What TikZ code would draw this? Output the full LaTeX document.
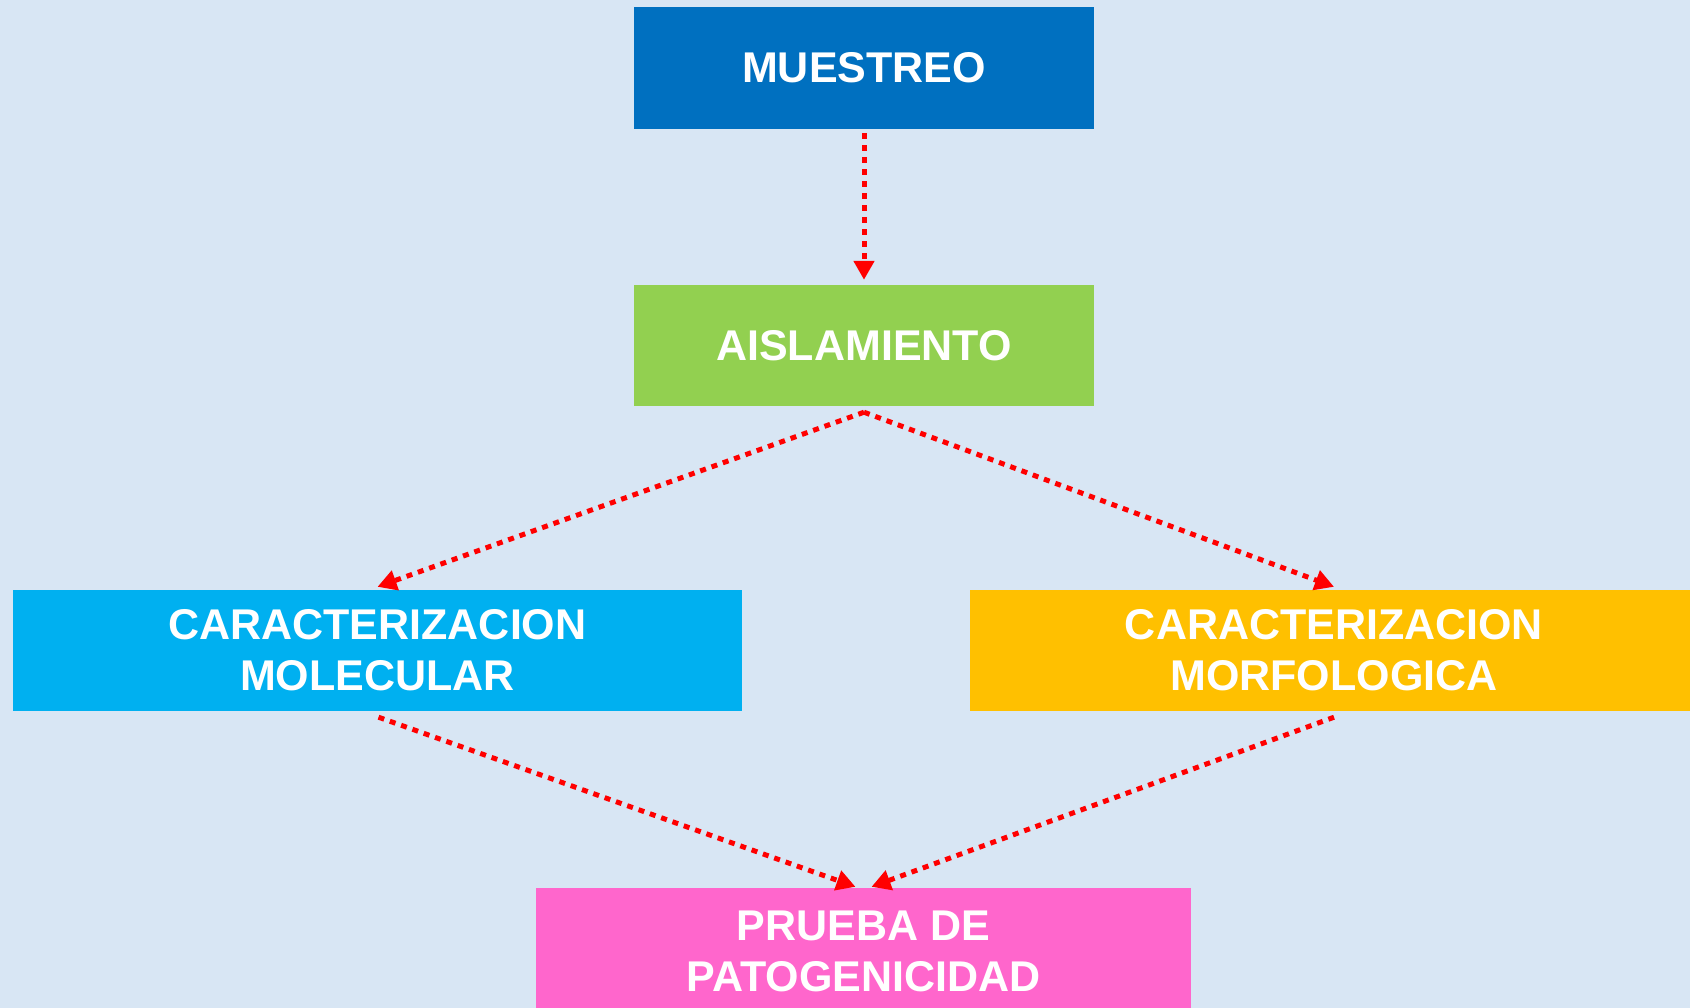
\documentclass[tikz,border=0pt]{standalone}
\usepackage{fontspec}
\setmainfont{Liberation Sans}
\usetikzlibrary{arrows.meta}
\definecolor{bgc}{HTML}{D8E6F4}
\definecolor{cmue}{HTML}{0070C0}
\definecolor{cais}{HTML}{92D050}
\definecolor{cmol}{HTML}{00B0F0}
\definecolor{cmor}{HTML}{FFC000}
\definecolor{cpru}{HTML}{FF66CC}
\tikzset{
  box/.style={rectangle, inner sep=0pt, text=white, align=center,
    font=\fontsize{43}{51}\selectfont\bfseries},
  arr/.style={draw=red, line width=5pt, dash pattern=on 6pt off 6pt,
    -{Triangle[length=19pt,width=20pt]}}
}
\begin{document}
\begin{tikzpicture}[x=1pt,y=-1pt]
\clip (0,0) rectangle (1690,1008);
\fill[bgc] (0,0) rectangle (1690,1008);
\node[box, fill=cmue, minimum width=460pt, minimum height=122pt] (m) at (864,68) {MUESTREO};
\node[box, fill=cais, minimum width=460pt, minimum height=121pt] (a) at (864,345.5) {AISLAMIENTO};
\node[box, fill=cmol, minimum width=729pt, minimum height=121pt] (mol) at (377.5,650.5) {CARACTERIZACION\\MOLECULAR};
\node[box, fill=cmor, minimum width=728pt, minimum height=121pt] (mor) at (1334,650.5) {CARACTERIZACION\\MORFOLOGICA};
\node[box, fill=cpru, minimum width=655pt, minimum height=127pt] (p) at (863.5,951.5) {PRUEBA DE\\PATOGENICIDAD};
\coordinate (apex) at ([yshift=-6pt]a.south);
\draw[arr] ([yshift=-4pt]m.south) -- ([yshift=5pt]a.north);
\draw[arr] (apex) -- ([yshift=3pt]mol.north);
\draw[arr] (apex) -- ([yshift=3pt]mor.north);
\draw[arr] ([xshift=1pt,yshift=-6pt]mol.south) -- ([xshift=-8pt,yshift=1pt]p.north);
\draw[arr] ([yshift=-6pt]mor.south) -- ([xshift=8pt,yshift=1pt]p.north);
\end{tikzpicture}
\end{document}
